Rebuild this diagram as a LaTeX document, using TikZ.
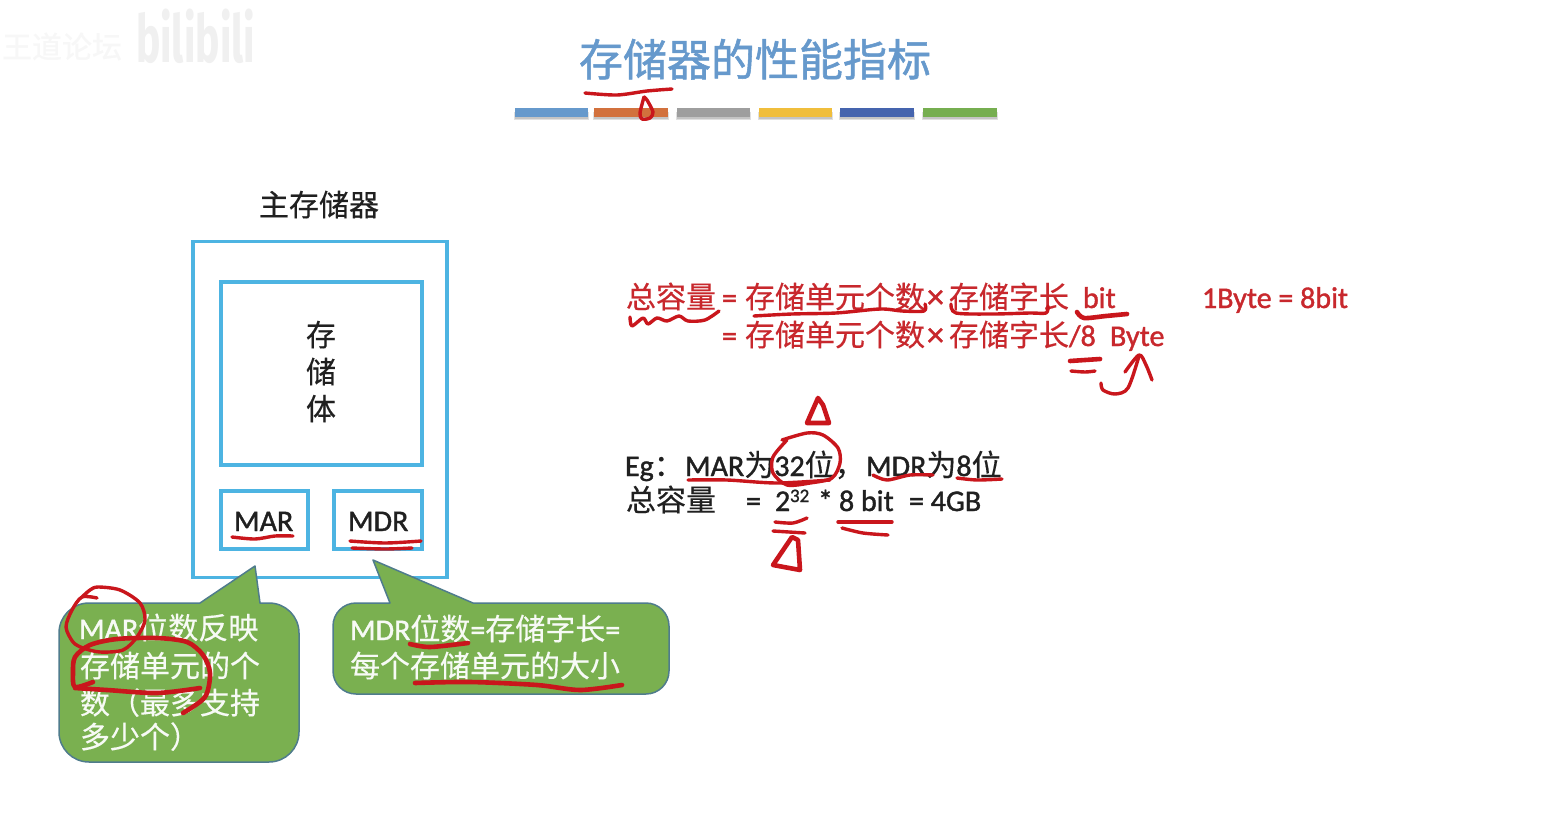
\documentclass[tikz,border=0pt]{standalone}
\usepackage{fontspec}
\setmainfont{Carlito}[FakeBold=1.3]
\newfontfamily\cjk{Noto Sans CJK SC}[FakeBold=0.4]
\newfontfamily\titlecjk{Noto Sans CJK SC}[FakeBold=1.2]
\newfontfamily\logofont{Fira Sans}
\newcommand{\C}[1]{{\cjk #1}}
\newcommand{\FS}[1]{\fontsize{#1}{#1}\selectfont}
\definecolor{titleblue}{HTML}{6699CC}
\definecolor{boxblue}{HTML}{4DB4E2}
\definecolor{callfill}{HTML}{7AB050}
\definecolor{calledge}{HTML}{4F7C8C}
\definecolor{inkred}{HTML}{C9161C}
\definecolor{txtred}{HTML}{C8282D}
\definecolor{txtblack}{HTML}{202020}
\tikzset{
  lbl/.style={anchor=base west,inner sep=0pt,outer sep=0pt},
  bar/.style={fill=#1,draw=none},
  barshadow/.style={fill=black,opacity=0.12,draw=none},
  memframe/.style={draw=boxblue,line width=3.2pt,fill=none,outer sep=0pt},
  callout/.style={fill=callfill,draw=calledge,line width=1.5pt,line join=round},
  ink/.style={draw=inkred,line width=3.4pt,line cap=round,line join=round},
  inkthick/.style={draw=inkred,line width=4.6pt,line cap=round,line join=round},
  redtext/.style={lbl,text=txtred,font=\FS{30}},
  blacktext/.style={lbl,text=txtblack,font=\FS{30}},
  whitetext/.style={lbl,text=white!94!callfill,font=\FS{30}},
}
\begin{document}
\begin{tikzpicture}[x=1pt,y=-1pt]
\useasboundingbox (0,0) rectangle (1550,822);
\fill[white] (0,0) rectangle (1550,822);
% watermark
\node[lbl,text=black!3,font=\FS{30}] (wm1) at (2,58) {\C{王道论坛}};
\node[lbl,text=black!6,font=\logofont\bfseries\FS{66},xscale=0.62,anchor=base west] (wm2) at (136,62) {bilibili};
% title
\node[lbl,text=titleblue,font=\FS{44}] (title) at (579,76) {{\titlecjk 存储器的性能指标}};
% bars
\foreach \a/\b/\c in {515/588/6699CC,594/668/D2713D,677/750/9E9E9E,759/832/F0BE3C,840/914/4564AE,923/997/76AE50}{
  \definecolor{barc}{HTML}{\c}
  \fill[barshadow] (\a-1,112) rectangle (\b+1,120);
  \fill[barshadow] (\a,112) rectangle (\b,118.5);
  \fill[bar=barc] (\a,108) rectangle (\b,117);
}
% memory
\node[lbl,text=txtblack,font=\FS{30}] (mainmem) at (259,216) {\C{主存储器}};
\node[memframe,minimum width=254pt,minimum height=336pt,inner sep=0pt] (outer) at (320,409.5) {};
\node[memframe,minimum width=201pt,minimum height=183pt,inner sep=0pt] (store) at (321.5,373.5) {};
\node[lbl,text=txtblack,font=\FS{30}] (s1) at (306,346) {\C{存}};
\node[lbl,text=txtblack,font=\FS{30}] (s2) at (306,383) {\C{储}};
\node[lbl,text=txtblack,font=\FS{30}] (s3) at (306,420) {\C{体}};
\node[memframe,minimum width=87pt,minimum height=58pt,inner sep=0pt] (marbox) at (264.5,520) {};
\node[memframe,minimum width=88pt,minimum height=58pt,inner sep=0pt] (mdrbox) at (378,520) {};
\node[blacktext] (martxt) at (234,531) {MAR};
\node[blacktext] (mdrtxt) at (348,531) {MDR};
% callouts
\draw[callout] (89,603) -- (200,603) -- (255,566) -- (260,603) -- (269,603)
  arc[start angle=-90,end angle=0,radius=30] -- (299,732)
  arc[start angle=0,end angle=90,radius=30] -- (89,762)
  arc[start angle=90,end angle=180,radius=30] -- (59,633)
  arc[start angle=180,end angle=270,radius=30] -- cycle;
\draw[callout] (356,603) -- (390,603) -- (373,560) -- (473,603) -- (646,603)
  arc[start angle=-90,end angle=0,radius=23] -- (669,671)
  arc[start angle=0,end angle=90,radius=23] -- (356,694)
  arc[start angle=90,end angle=180,radius=23] -- (333,626)
  arc[start angle=180,end angle=270,radius=23] -- cycle;
\node[whitetext] (c1a) at (79,639) {MAR\C{位数反映}};
\node[whitetext] (c1b) at (80,677) {\C{存储单元的个}};
\node[whitetext] (c1c) at (80,714) {\C{数（最多支持}};
\node[whitetext] (c1d) at (80,748) {\C{多少个）}};
\node[whitetext] (c2a) at (350,640) {MDR\C{位数}=\C{存储字长}=};
\node[whitetext] (c2b) at (350,677) {\C{每个存储单元的大小}};
% formulas
\node[redtext] (f1a) at (626,308) {\C{总容量}};
\node[redtext] (f1b) at (722,308) {=};
\node[redtext] (f1c) at (745,308) {\C{存储单元个数}};
\node[redtext] (f1x) at (927,308) {\FS{34}×};
\node[redtext] (f1m) at (949,308) {\C{存储字长}};
\node[redtext] (f1d) at (1083,308) {bit};
\node[redtext] (f1e) at (1202,308) {1Byte = 8bit};
\node[redtext] (f2b) at (722,346) {=};
\node[redtext] (f2c) at (745,346) {\C{存储单元个数}};
\node[redtext] (f2x) at (927,346) {\FS{34}×};
\node[redtext] (f2m) at (949,346) {\C{存储字长}/8};
\node[redtext] (f2d) at (1110,346) {Byte};
\node[blacktext] (e1a) at (625,476) {Eg\C{：}};
\node[blacktext] (e1b) at (685,476) {MAR\C{为}32\C{位}\C{，}};
\node[blacktext] (e1c) at (866,476) {MDR\C{为}8\C{位}};
\node[blacktext] (e2a) at (626,511) {\C{总容量}};
\node[blacktext] (e2b) at (746,511) {=};
\node[blacktext] (e2c) at (775,511) {2};
\node[lbl,text=txtblack,font=\FS{19}] (e2d) at (790,502) {32};
\node[blacktext] (e2e) at (818,511) {*};
\node[blacktext] (e2f) at (839,511) {8 bit};
\node[blacktext] (e2g) at (909,511) {= 4GB};
% ink: title
\draw[ink] plot[smooth] coordinates {(585,93) (617,95) (647,91) (672,89)};
\draw[ink] plot[smooth] coordinates {(644,97) (640,113) (642,119) (650,118) (653,112) (647,100) (644,97)};
% ink: boxes
\draw[ink] plot[smooth] coordinates {(232,537) (255,539) (275,536) (293,536)};
\draw[ink] plot[smooth] coordinates {(350,541) (385,543) (421,541)};
\draw[ink] plot[smooth] coordinates {(352,548) (385,549) (412,548)};
% ink: callout 1
\draw[ink] plot[smooth] coordinates {(97,598) (82,597) (72,610) (66,627) (73,642) (83,648) (100,652) (123,650) (137,637) (145,620) (140,603) (120,590) (98,587) (90,590) (82,597)};
\draw[inkthick] plot[smooth] coordinates {(93,682) (75,687) (73,673) (75,657) (90,645) (117,639) (157,638) (187,642) (203,655) (210,673) (205,697) (183,713)};
\draw[inkthick] plot[smooth] coordinates {(75,688) (107,690) (157,693) (200,688)};
% ink: callout 2
\draw[inkthick] plot[smooth] coordinates {(410,644) (430,647) (468,643)};
\draw[inkthick] plot[smooth] coordinates {(415,683) (470,682) (537,685) (580,690) (622,685)};
% ink: formulas
\draw[ink] plot[smooth] coordinates {(630,317) (632,326) (643,318) (648,324) (657,318) (667,321) (679,316) (688,321) (705,320) (719,311)};
\draw[ink] plot[smooth] coordinates {(754,316) (792,314) (836,313) (880,309) (902,311) (924,311) (925,304)};
\draw[ink] plot[smooth] coordinates {(951,304) (956,313) (993,314) (1030,313) (1046,313) (1048,306)};
\draw[inkthick] plot[smooth] coordinates {(1077,312) (1084,318) (1106,316) (1127,314)};
\draw[inkthick] plot[smooth] coordinates {(1070,361) (1085,360) (1100,359)};
\draw[ink] plot[smooth] coordinates {(1071,371) (1085,372) (1095,371)};
\draw[ink] plot[smooth] coordinates {(1101,383) (1103,390) (1115,394) (1128,388) (1139,356)};
\draw[ink] plot[smooth] coordinates {(1125,372) (1139,355) (1146,365) (1152,380)};
% ink: example
\draw[inkthick] (818,398) -- (807,423) -- (829,423) -- (823,405) -- cycle;
\draw[ink] plot[smooth] coordinates {(782,440) (807,433) (823,435) (838,448) (840,463) (832,478) (810,483) (787,485) (773,473) (773,457) (787,440)};
\draw[ink] plot[smooth] coordinates {(688,480) (727,480) (777,483) (830,480)};
\draw[ink] plot[smooth] coordinates {(873,475) (887,480) (910,475) (933,475)};
\draw[ink] plot[smooth] coordinates {(957,478) (977,480) (1002,479)};
\draw[ink] plot[smooth] coordinates {(775,522) (793,523) (807,518)};
\draw[ink] plot[smooth] coordinates {(773,531) (805,533)};
\draw[ink] plot[smooth] coordinates {(838,522) (860,522) (892,522)};
\draw[ink] plot[smooth] coordinates {(842,528) (863,533) (888,535)};
\draw[inkthick] (792,537) -- (773,565) -- (800,570) -- (798,540) -- cycle;
\end{tikzpicture}
\end{document}
